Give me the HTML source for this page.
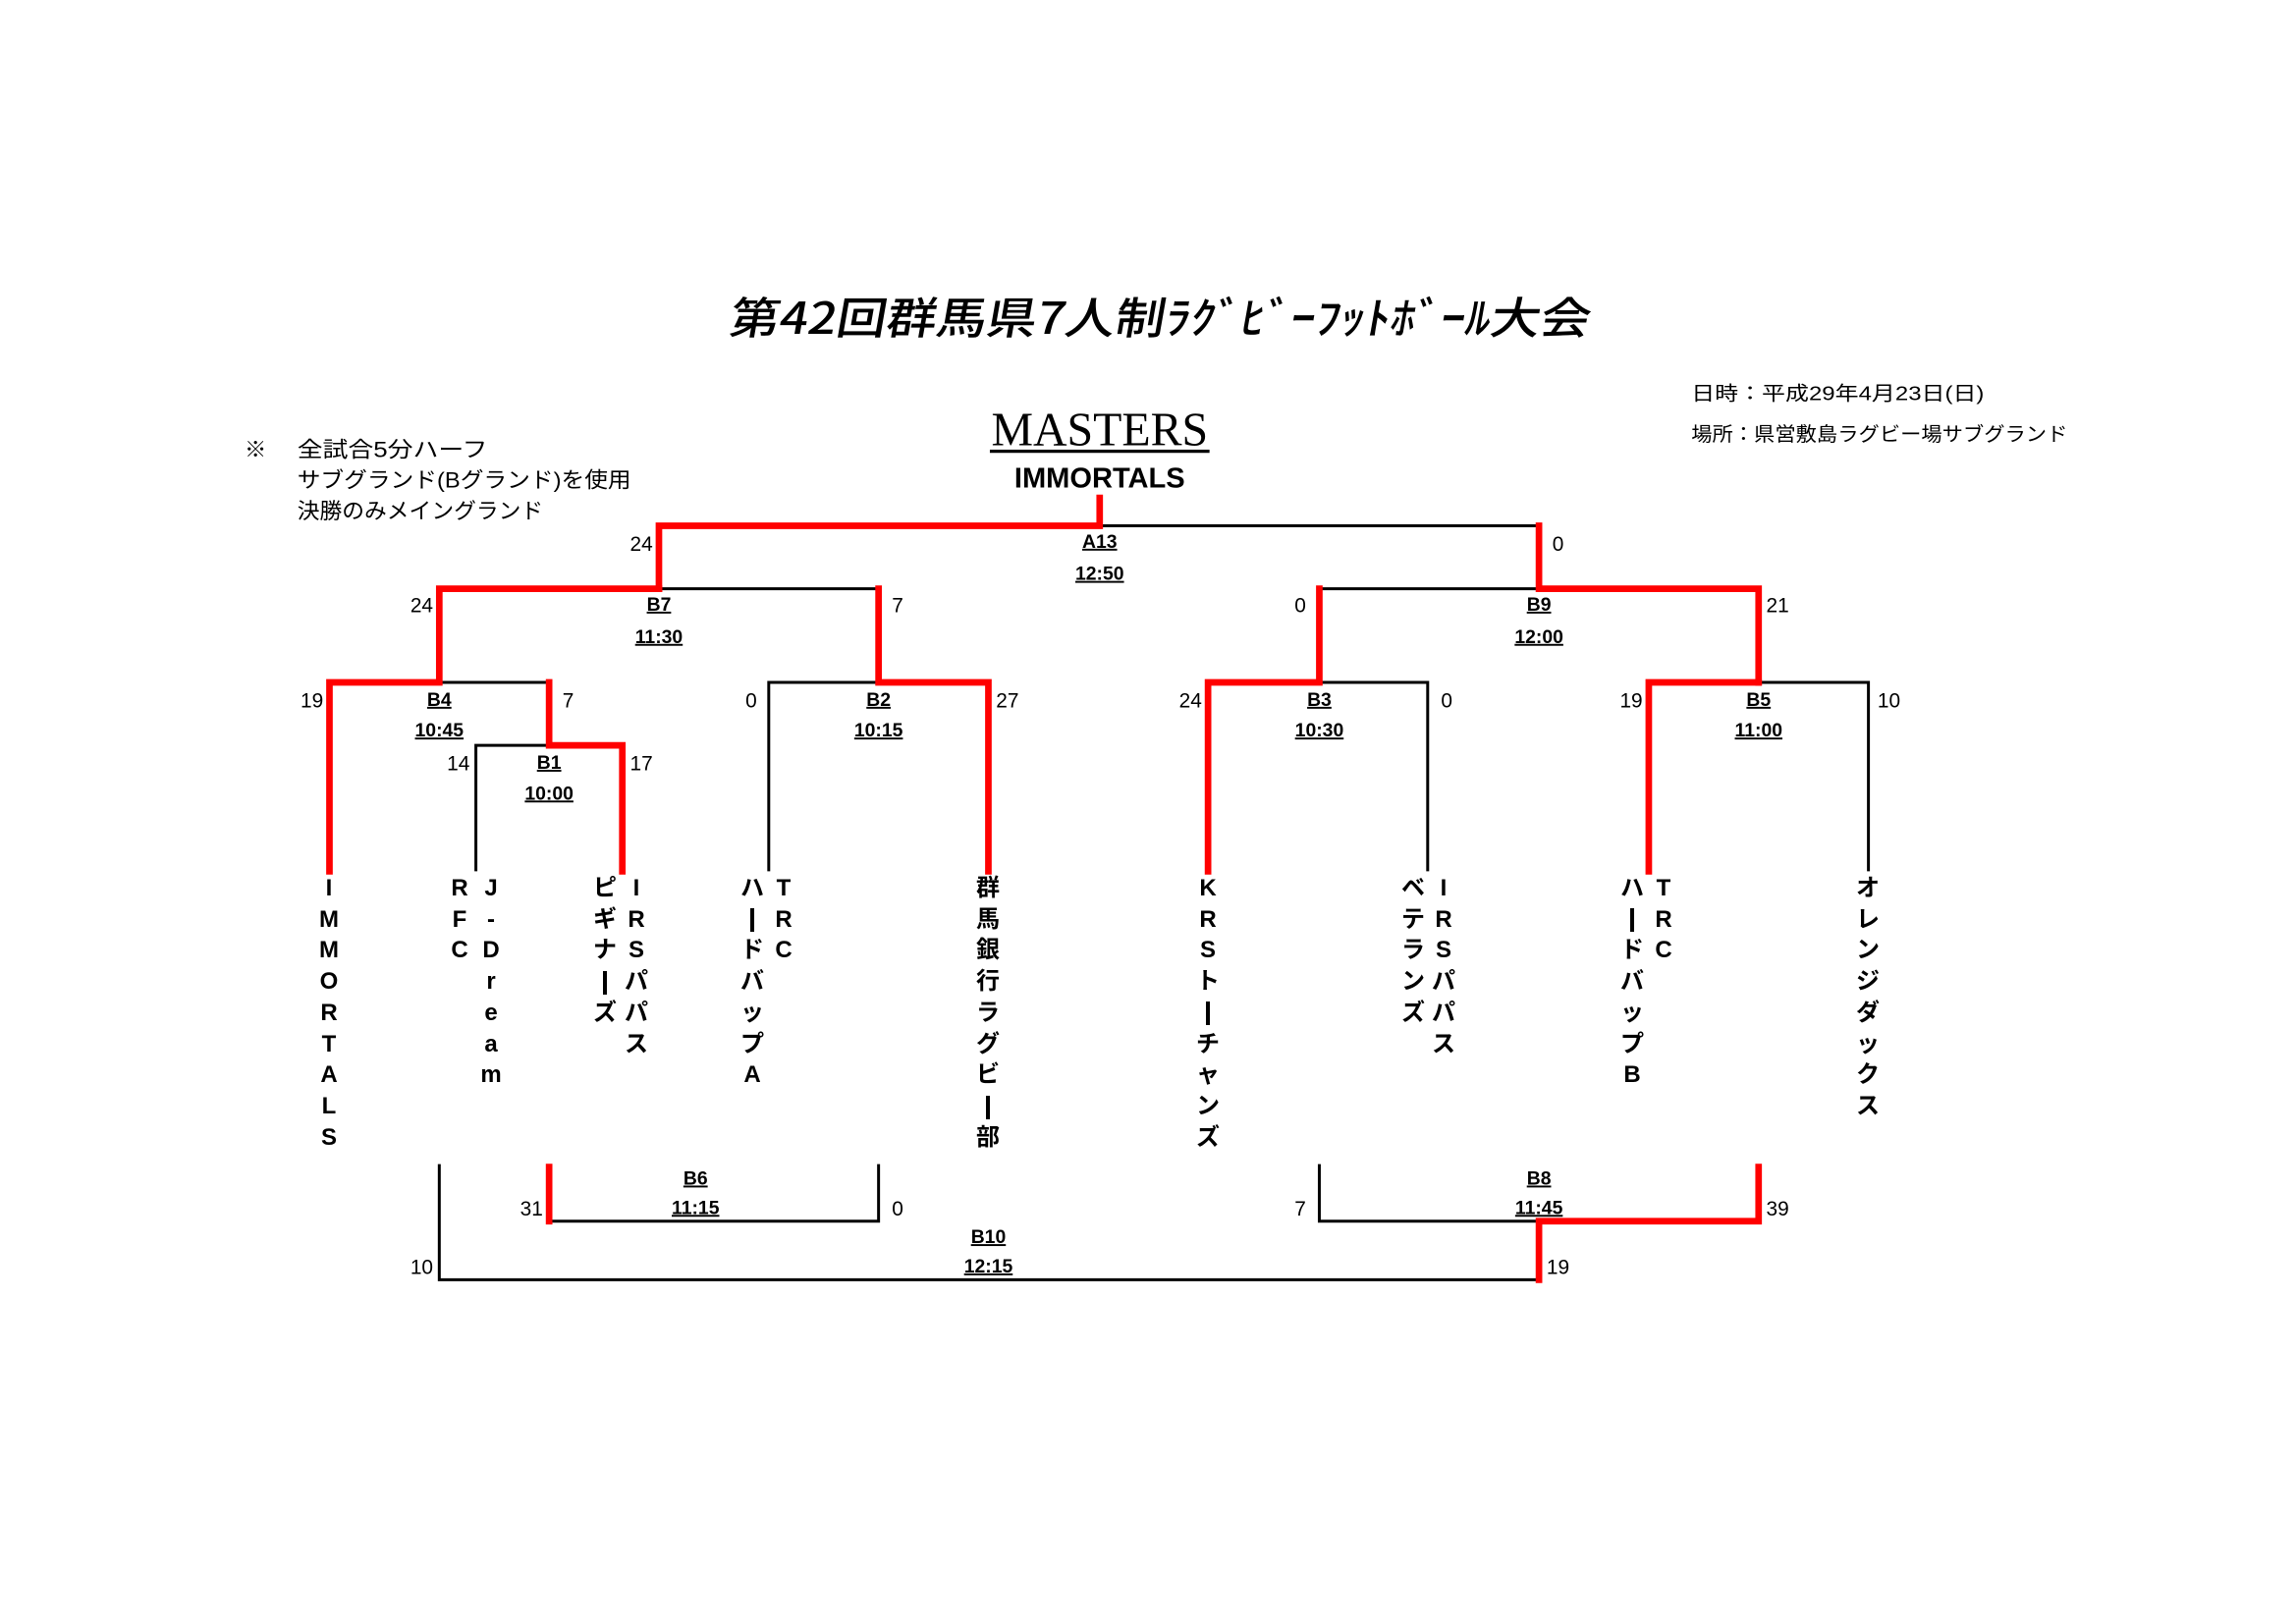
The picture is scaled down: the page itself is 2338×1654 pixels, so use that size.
<!DOCTYPE html>
<html><head><meta charset="utf-8"><style>
html,body{margin:0;padding:0;background:#fff}
#w{position:relative;width:2338px;height:1654px;overflow:hidden}
svg{position:absolute;left:0;top:0}
.v{position:absolute;width:40px;margin-left:-20px;text-align:center;font:bold 24px "Liberation Sans","Noto Sans CJK JP",sans-serif;line-height:31.7px;top:889px;color:#000}
.b{display:inline-block;width:4px;height:24px;background:#000;vertical-align:middle}
</style></head><body><div id="w">
<svg width="2338" height="1654" viewBox="0 0 1568 1109">
<g font-family="Liberation Serif,'Noto Sans CJK JP',sans-serif">
<text x="791" y="228" font-family="'Noto Sans CJK JP',sans-serif" font-weight="500" font-size="30" text-anchor="middle" textLength="588" lengthAdjust="spacingAndGlyphs" transform="skewX(-10) translate(40,0)">第42回群馬県7人制ﾗｸﾞﾋﾞｰﾌｯﾄﾎﾞｰﾙ大会</text>
<text x="751" y="304" font-size="33" text-anchor="middle" textLength="148" lengthAdjust="spacingAndGlyphs">MASTERS</text>
<rect x="676" y="307" width="150" height="2.2" fill="#000"/>
<text x="751" y="333" font-family="Liberation Sans,sans-serif" font-weight="bold" font-size="19.5" text-anchor="middle">IMMORTALS</text>
</g>
<g font-family="'Liberation Sans','Noto Sans CJK JP',sans-serif" font-size="15">
<text x="167" y="312">※</text>
<text x="203" y="312" textLength="130" lengthAdjust="spacingAndGlyphs">全試合5分ハーフ</text>
<text x="203" y="333" textLength="228" lengthAdjust="spacingAndGlyphs">サブグランド(Bグランド)を使用</text>
<text x="203" y="354" textLength="168" lengthAdjust="spacingAndGlyphs">決勝のみメイングランド</text>
<text x="1155" y="273" font-size="13.5" textLength="200" lengthAdjust="spacingAndGlyphs">日時：平成29年4月23日(日)</text>
<text x="1155" y="301" font-size="13.5" textLength="257" lengthAdjust="spacingAndGlyphs">場所：県営敷島ラグビー場サブグランド</text>
</g>
<g fill="none" stroke="#000" stroke-width="2">
<path d="M751 359H1051"/>
<path d="M450 402H600V466"/>
<path d="M901 402H1051"/>
<path d="M300 466H375"/>
<path d="M325 595V509H375"/>
<path d="M525 595V466H600"/>
<path d="M901 466H975V595"/>
<path d="M1201 466H1276V595"/>
<path d="M600 795V834H375"/>
<path d="M901 795V834H1051"/>
<path d="M300 795V874H1051"/>
</g>
<g fill="none" stroke="#f00" stroke-width="4.5" stroke-linecap="square" stroke-linejoin="miter">
<path d="M751 340V359H450V402"/>
<path d="M1051 359V402H1201V466"/>
<path d="M225 595V466H300V402H450"/>
<path d="M375 466V509H425V595"/>
<path d="M600 402V466H675V595"/>
<path d="M825 595V466H901V402"/>
<path d="M1126 595V466H1201"/>
<path d="M375 797V834"/>
<path d="M1201 797V834H1051V874"/>
</g>
<g font-family="'Liberation Sans',sans-serif" font-size="14" text-anchor="middle">
<text x="438" y="376">24</text><text x="1064" y="376">0</text>
<text x="288" y="418">24</text><text x="613" y="418">7</text>
<text x="888" y="418">0</text><text x="1214" y="418">21</text>
<text x="213" y="483">19</text><text x="388" y="483">7</text>
<text x="513" y="483">0</text><text x="688" y="483">27</text>
<text x="813" y="483">24</text><text x="988" y="483">0</text>
<text x="1114" y="483">19</text><text x="1290" y="483">10</text>
<text x="313" y="526">14</text><text x="438" y="526">17</text>
<text x="363" y="830">31</text><text x="613" y="830">0</text>
<text x="888" y="830">7</text><text x="1214" y="830">39</text>
<text x="288" y="870">10</text><text x="1064" y="870">19</text>
</g>
<g font-family="'Liberation Sans',sans-serif" font-size="13" font-weight="bold" text-anchor="middle" text-decoration="underline">
<text x="751" y="374">A13</text><text x="751" y="396">12:50</text>
<text x="450" y="417">B7</text><text x="450" y="439">11:30</text>
<text x="1051" y="417">B9</text><text x="1051" y="439">12:00</text>
<text x="300" y="482">B4</text><text x="300" y="503">10:45</text>
<text x="600" y="482">B2</text><text x="600" y="503">10:15</text>
<text x="901" y="482">B3</text><text x="901" y="503">10:30</text>
<text x="1201" y="482">B5</text><text x="1201" y="503">11:00</text>
<text x="375" y="525">B1</text><text x="375" y="546">10:00</text>
<text x="475" y="809">B6</text><text x="475" y="829">11:15</text>
<text x="1051" y="809">B8</text><text x="1051" y="829">11:45</text>
<text x="675" y="849">B10</text><text x="675" y="869">12:15</text>
</g>
</svg>
<div class="v" style="left:335px">I<br>M<br>M<br>O<br>R<br>T<br>A<br>L<br>S</div>
<div class="v" style="left:468px">R<br>F<br>C</div>
<div class="v" style="left:500px">J<br>-<br>D<br>r<br>e<br>a<br>m</div>
<div class="v" style="left:616px">ピ<br>ギ<br>ナ<br><span class="b"></span><br>ズ</div>
<div class="v" style="left:648px">I<br>R<br>S<br>パ<br>パ<br>ス</div>
<div class="v" style="left:766px">ハ<br><span class="b"></span><br>ド<br>バ<br>ッ<br>プ<br>A</div>
<div class="v" style="left:798px">T<br>R<br>C</div>
<div class="v" style="left:1006px">群<br>馬<br>銀<br>行<br>ラ<br>グ<br>ビ<br><span class="b"></span><br>部</div>
<div class="v" style="left:1230px">K<br>R<br>S<br>ト<br><span class="b"></span><br>チ<br>ャ<br>ン<br>ズ</div>
<div class="v" style="left:1439px">ベ<br>テ<br>ラ<br>ン<br>ズ</div>
<div class="v" style="left:1470px">I<br>R<br>S<br>パ<br>パ<br>ス</div>
<div class="v" style="left:1662px">ハ<br><span class="b"></span><br>ド<br>バ<br>ッ<br>プ<br>B</div>
<div class="v" style="left:1694px">T<br>R<br>C</div>
<div class="v" style="left:1902px">オ<br>レ<br>ン<br>ジ<br>ダ<br>ッ<br>ク<br>ス</div>
</div></body></html>
